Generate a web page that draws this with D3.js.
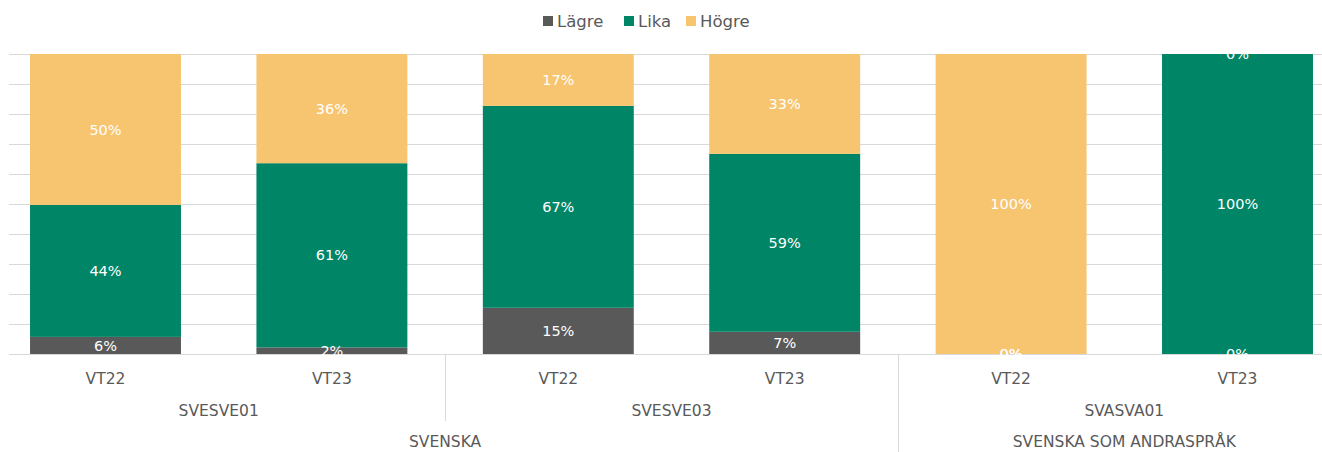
<!DOCTYPE html>
<html lang="sv">
<head>
<meta charset="UTF-8">
<title>Betyg</title>
<script src="https://d3js.org/d3.v7.min.js"></script>
<style>
    body { margin: 0; background: #fff; }
    svg { font-family: "DejaVu Sans", "Lato", sans-serif; }
    .grid line { stroke: #d9d9d9; stroke-width: 1; shape-rendering: crispEdges; }
    .lbl { fill: #fff; font-size: 14.5px; text-anchor: middle; }
    .cat { fill: #595959; font-size: 15.5px; text-anchor: middle; }
</style>
</head>
<body>
<div id="chart"></div>
<script>

// data
var periods = ["VT22", "VT23", "VT22", "VT23", "VT22", "VT23"];
var courses = ["SVESVE01", "SVESVE03", "SVASVA01"];
var subjects = ["SVENSKA", "SVENSKA SOM ANDRASPRÅK"];
var series = ["Lägre", "Lika", "Högre"];
var lagre = [5.7, 2.2, 15.4, 7.4, 0, 0];
var lika = [44.0, 61.4, 67.3, 59.3, 0, 100];
var hogre = [50.3, 36.4, 17.3, 33.3, 100, 0];
var colors = ["#595959", "#008566", "#f7c570"];

var W = 1322, H = 452;
var top0 = 54, base = 354;

var svg = d3.select("#chart").append("svg")
    .attr("width", W)
    .attr("height", H);

var rows = periods.map(function(p, i) {
    return { key: i, "Lägre": lagre[i], "Lika": lika[i], "Högre": hogre[i] };
});

var x = d3.scaleBand()
    .domain(d3.range(periods.length))
    .range([-7.7, 1350.7])
    .paddingInner(1 / 3)
    .paddingOuter(1 / 6);

var y = d3.scaleLinear().domain([0, 100]).range([base, top0]);

// gridlines
svg.append("g").attr("class", "grid")
    .selectAll("line")
    .data(d3.range(10, 101, 10))
    .enter().append("line")
    .attr("x1", 9).attr("x2", W)
    .attr("y1", function(d) { return Math.round(y(d)) + 0.5; })
    .attr("y2", function(d) { return Math.round(y(d)) + 0.5; });

var stack = d3.stack().keys(series)(rows);

var layers = svg.append("g").selectAll("g")
    .data(stack)
    .enter().append("g")
    .attr("fill", function(d, i) { return colors[i]; });

layers.selectAll("rect")
    .data(function(d) { return d; })
    .enter().append("rect")
    .attr("x", function(d) { return x(d.data.key); })
    .attr("width", x.bandwidth())
    .attr("y", function(d) { return y(d[1]); })
    .attr("height", function(d) { return y(d[0]) - y(d[1]); });

// axis line
svg.append("line")
    .attr("x1", 9).attr("x2", W)
    .attr("y1", base + 0.5).attr("y2", base + 0.5)
    .attr("stroke", "#d9d9d9");

// data labels, clipped like the original
svg.append("clipPath").attr("id", "clip")
    .append("rect").attr("x", 0).attr("y", 52).attr("width", W).attr("height", 306);

var labels = svg.append("g").attr("clip-path", "url(#clip)");
stack.forEach(function(s) {
    labels.selectAll(null)
        .data(s)
        .enter().append("text")
        .attr("class", "lbl")
        .attr("x", function(d) { return x(d.data.key) + x.bandwidth() / 2; })
        .attr("y", function(d) { return y((d[0] + d[1]) / 2); })
        .attr("dy", "0.35em")
        .text(function(d) { return Math.round(d[1] - d[0]) + "%"; });
});

// category axis (three levels)
svg.append("g").selectAll("text")
    .data(periods)
    .enter().append("text")
    .attr("class", "cat")
    .attr("x", function(d, i) { return x(i) + x.bandwidth() / 2; })
    .attr("y", 384)
    .text(function(d) { return d; });

var step = x.step();
svg.append("g").selectAll("text")
    .data(courses)
    .enter().append("text")
    .attr("class", "cat")
    .attr("x", function(d, i) { return x(i * 2) + x.bandwidth() / 2 + step / 2; })
    .attr("y", 416)
    .text(function(d) { return d; });

var subjectSpan = [[0, 3], [4, 5]];
svg.append("g").selectAll("text")
    .data(subjects)
    .enter().append("text")
    .attr("class", "cat")
    .attr("x", function(d, i) {
        var a = subjectSpan[i][0], b = subjectSpan[i][1];
        return (x(a) + x(b) + x.bandwidth()) / 2;
    })
    .attr("y", 447)
    .text(function(d) { return d; });

// separators between groups
var sepX = function(i) { return Math.round(x(i) - (step - x.bandwidth()) / 2) + 0.5; };
svg.append("line")
    .attr("x1", sepX(2)).attr("x2", sepX(2))
    .attr("y1", base).attr("y2", 421)
    .attr("stroke", "#d9d9d9");
svg.append("line")
    .attr("x1", sepX(4)).attr("x2", sepX(4))
    .attr("y1", base).attr("y2", H)
    .attr("stroke", "#d9d9d9");

// legend
var legendX = [543, 624, 686];
var legend = svg.append("g").selectAll("g")
    .data(series)
    .enter().append("g")
    .attr("transform", function(d, i) { return "translate(" + legendX[i] + ",16)"; });
legend.append("rect")
    .attr("width", 10).attr("height", 10)
    .attr("fill", function(d, i) { return colors[i]; });
legend.append("text")
    .attr("x", 14).attr("y", 5).attr("dy", "0.35em")
    .attr("fill", "#595959")
    .style("font-size", "16.5px")
    .text(function(d) { return d; });

</script>
</body>
</html>
